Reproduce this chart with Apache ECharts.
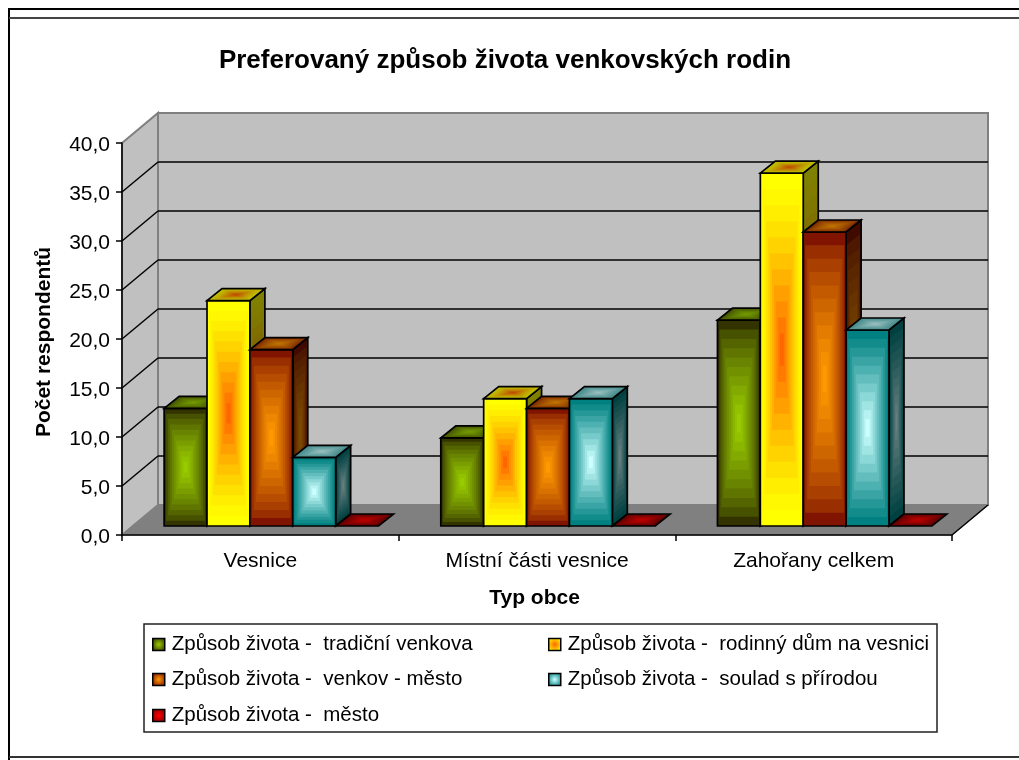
<!DOCTYPE html>
<html><head><meta charset="utf-8">
<style>html,body{margin:0;padding:0;background:#fff}#c{width:1019px;height:760px}</style>
<script src="https://cdn.jsdelivr.net/npm/echarts@6/dist/echarts.min.js"></script>
</head><body><div id="c"></div>
<script>
const categories = ['Vesnice', 'Místní části vesnice', 'Zahořany celkem'];
const tradicni = [12, 9, 21];
const rodinny = [23, 13, 36];
const venkovMesto = [18, 12, 30];
const soulad = [7, 13, 20];
const mesto = [0, 0, 0];
const yTicks = [0, 5, 10, 15, 20, 25, 30, 35, 40];
const seriesNames = [
  'Způsob života -  tradiční venkova',
  'Způsob života -  rodinný dům na vesnici',
  'Způsob života -  venkov - město',
  'Způsob života -  soulad s přírodou',
  'Způsob života -  město'
];
const seriesValues = [tradicni, rodinny, venkovMesto, soulad, mesto];
// [edge, centre] colours
const palette = [
  [[51,51,0],[153,204,0]],
  [[255,255,0],[255,102,0]],
  [[128,20,0],[255,153,0]],
  [[0,128,128],[204,255,255]],
  [[128,0,0],[255,0,0]]
];
const topStart = [0.3, 0, 0.2, 0.45, 0];
const shadeGamma = [0.7, 1.35, 0.7, 1.05, 1];
const FONT = '"Liberation Sans", Arial, sans-serif';
const WALL = {x: 36, y: -30};     // depth of the plot box
const BAR_SHIFT = {x: 11, y: -9}; // where bars stand on the floor
const BAR_DEPTH = {x: 15, y: -12};
const BAR_SHARE = 0.155;
const STEPS = 11;

function lerp(a, b, t) { return a + (b - a) * t; }
function rgb(c, k) { return 'rgb(' + c.map(v => Math.round(v * k)).join(',') + ')'; }

// concentric shaded quad, like a rectangular path gradient
function shadedQuad(pts, cols, k, gamma, start) {
  const cx = (pts[0][0] + pts[1][0] + pts[2][0] + pts[3][0]) / 4;
  const cy = (pts[0][1] + pts[1][1] + pts[2][1] + pts[3][1]) / 4;
  const s = start || 0;
  const out = [];
  for (let i = 0; i < STEPS; i++) {
    const t = i / STEPS;
    const ct = s + (1 - s) * Math.pow(i / (STEPS - 1), gamma);
    const col = cols[0].map((v, j) => lerp(v, cols[1][j], ct));
    out.push({
      type: 'polygon',
      shape: {points: pts.map(p => [lerp(p[0], cx, t), lerp(p[1], cy, t)])},
      style: {fill: rgb(col, k), stroke: null}
    });
  }
  out.push({
    type: 'polygon',
    shape: {points: pts},
    style: {fill: 'none', stroke: '#000', lineWidth: 1.7}
  });
  return out;
}

function makeBarSeries(idx) {
  return {
    type: 'custom',
    name: seriesNames[idx],
    coordinateSystem: 'cartesian2d',
    z: 5 + idx,
    silent: true,
    itemStyle: {color: rgb(palette[idx][1], 1)},
    encode: {x: 0, y: 1},
    data: seriesValues[idx].map((v, i) => [i, v]),
    renderItem: function (params, api) {
      const top = api.coord([api.value(0), api.value(1)]);
      const base = api.coord([api.value(0), 0]);
      const w = api.size([1, 0])[0] * BAR_SHARE;
      const x0 = top[0] + BAR_SHIFT.x + (idx - 2.5) * w;
      const x1 = x0 + w;
      const yT = top[1] + BAR_SHIFT.y;
      const yB = base[1] + BAR_SHIFT.y;
      const dx = BAR_DEPTH.x, dy = BAR_DEPTH.y;
      const cols = palette[idx], g = shadeGamma[idx];
      let children = [];
      if (yB - yT > 0.5) {
        children = children.concat(
          shadedQuad([[x1, yT], [x1 + dx, yT + dy], [x1 + dx, yB + dy], [x1, yB]], cols, 0.5, g),
          shadedQuad([[x0, yT], [x1, yT], [x1, yB], [x0, yB]], cols, 1, g)
        );
      }
      children = children.concat(
        shadedQuad([[x0, yT], [x0 + dx, yT + dy], [x1 + dx, yT + dy], [x1, yT]], cols, 0.75, g, topStart[idx])
      );
      return {type: 'group', children: children};
    }
  };
}

const wallSeries = {
  type: 'custom',
  silent: true,
  z: 1,
  coordinateSystem: 'cartesian2d',
  encode: {y: 1},
  data: yTicks.map(v => [0, v]),
  renderItem: function (params, api) {
    const v = api.value(1);
    const p0 = api.coord([0, 0]), p1 = api.coord([0, 40]);
    const w = api.size([1, 0])[0] * categories.length;
    const L = p0[0] - api.size([1, 0])[0] / 2, R = L + w;
    const yB = p0[1], yT = p1[1];
    const y = api.coord([0, v])[1];
    const dx = WALL.x, dy = WALL.y;
    const lineStyle = (c, lw) => ({stroke: c, lineWidth: lw, fill: 'none'});
    const ch = [];
    if (v === 0) {
      ch.push(
        {type: 'polygon', shape: {points: [[L + dx, yT + dy], [R + dx, yT + dy], [R + dx, yB + dy], [L + dx, yB + dy]]}, style: {fill: '#c0c0c0', stroke: '#808080', lineWidth: 2}},
        {type: 'polygon', shape: {points: [[L, yT], [L + dx, yT + dy], [L + dx, yB + dy], [L, yB]]}, style: {fill: '#c0c0c0', stroke: '#808080', lineWidth: 2}},
        {type: 'polygon', shape: {points: [[L, yB], [L + dx, yB + dy], [R + dx, yB + dy], [R, yB]]}, style: {fill: '#808080', stroke: '#808080', lineWidth: 1}},
        {type: 'line', shape: {x1: R, y1: yB, x2: R + dx, y2: yB + dy}, style: lineStyle('#000', 1.5)}
      );
    } else if (v < 40) {
      ch.push(
        {type: 'line', shape: {x1: L, y1: y, x2: L + dx, y2: y + dy}, style: lineStyle('#000', 1.5)},
        {type: 'line', shape: {x1: L + dx, y1: y + dy, x2: R + dx, y2: y + dy}, style: lineStyle('#000', 1.5)}
      );
    }
    return {type: 'group', children: ch};
  }
};

function legendAt(i, left, top) {
  return {
    data: [{
      name: seriesNames[i],
      icon: 'rect',
      itemStyle: {
        color: {type: 'radial', x: 0.5, y: 0.5, r: 0.6, colorStops: [
          {offset: 0, color: rgb(palette[i][1], 1)},
          {offset: 1, color: rgb(palette[i][0], 1)}
        ]},
        borderColor: '#000', borderWidth: 1.5
      }
    }],
    left: left, top: top, padding: 0,
    itemWidth: 12, itemHeight: 12,
    selectedMode: false,
    textStyle: {fontFamily: FONT, fontSize: 20.5, color: '#000', padding: [0, 0, 0, 2]}
  };
}

const chart = echarts.init(document.getElementById('c'), null, {renderer: 'canvas'});
chart.setOption({
  animation: false,
  backgroundColor: '#fff',
  title: {
    text: 'Preferovaný způsob života venkovských rodin',
    left: 505, top: 43, textAlign: 'center',
    textStyle: {fontFamily: FONT, fontSize: 26, fontWeight: 'bold', color: '#000'},
    padding: [5, 5, 5, 0]
  },
  grid: {left: 122, top: 143, width: 830, height: 392, containLabel: false},
  xAxis: {
    type: 'category', data: categories,
    name: 'Typ obce', nameLocation: 'middle', nameGap: 53,
    nameTextStyle: {fontFamily: FONT, fontSize: 21, fontWeight: 'bold', color: '#000', padding: [0, 5, 0, 0]},
    axisLine: {show: true, lineStyle: {color: '#000', width: 1.5}},
    axisTick: {show: true, length: 6, lineStyle: {color: '#000', width: 1.5}},
    axisLabel: {fontFamily: FONT, fontSize: 21, color: '#000', margin: 16, interval: 0},
    splitLine: {show: false}, z: 3
  },
  yAxis: {
    type: 'value', min: 0, max: 40, interval: 5,
    name: 'Počet respondentů', nameLocation: 'middle', nameGap: 67, nameRotate: 90,
    nameTextStyle: {fontFamily: FONT, fontSize: 21, fontWeight: 'bold', color: '#000', padding: [0, 6, 0, 0]},
    axisLine: {show: true, lineStyle: {color: '#000', width: 1.5}},
    axisTick: {show: true, length: 6, lineStyle: {color: '#000', width: 1.5}},
    axisLabel: {
      fontFamily: FONT, fontSize: 21, color: '#000', margin: 12,
      verticalAlign: 'top', lineHeight: 4,
      formatter: v => v.toFixed(1).replace('.', ',')
    },
    splitLine: {show: false}, z: 3
  },
  legend: [
    legendAt(0, 152, 634), legendAt(1, 548, 634),
    legendAt(2, 152, 669), legendAt(3, 548, 669),
    legendAt(4, 152, 705)
  ],
  graphic: [
    {type: 'rect', silent: true, z: -1, shape: {x: 144, y: 624, width: 793, height: 108}, style: {fill: '#fff', stroke: '#222', lineWidth: 1.5}},
    {type: 'line', silent: true, shape: {x1: 9, y1: 8, x2: 9, y2: 760}, style: {stroke: '#000', lineWidth: 2}},
    {type: 'line', silent: true, shape: {x1: 8, y1: 9, x2: 1019, y2: 9}, style: {stroke: '#000', lineWidth: 2}},
    {type: 'line', silent: true, shape: {x1: 9, y1: 18, x2: 1019, y2: 18}, style: {stroke: '#444', lineWidth: 2}},
    {type: 'line', silent: true, shape: {x1: 9, y1: 757, x2: 1019, y2: 757}, style: {stroke: '#333', lineWidth: 2}}
  ],
  series: [wallSeries].concat(seriesNames.map((n, i) => makeBarSeries(i)))
});
</script></body></html>
